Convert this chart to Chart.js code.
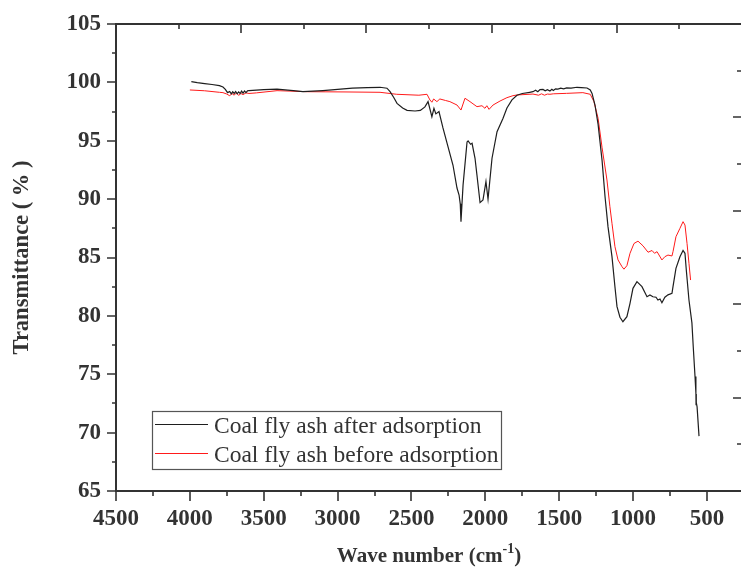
<!DOCTYPE html>
<html>
<head>
<meta charset="utf-8">
<script src="https://cdn.jsdelivr.net/npm/chart.js@4.4.1/dist/chart.umd.min.js"></script>
<style>
  html, body { margin: 0; padding: 0; background: #fff; overflow: hidden; }
  #wrap { width: 744px; height: 573px; }
</style>
</head>
<body>
<div id="wrap"><canvas id="ftir" width="744" height="573"></canvas></div>
<script>
// FTIR spectra of coal fly ash, wavenumber (cm-1) vs transmittance (%)
const afterWavenumber = [
  3990, 3950, 3900, 3850, 3800, 3776, 3760, 3745, 3730, 3720, 3710, 3700, 3690, 3680, 3670, 3660,
  3650, 3640, 3630, 3620, 3610, 3600, 3500, 3410, 3300, 3235, 3100, 3000, 2900, 2800, 2713, 2666,
  2645, 2620, 2598, 2560, 2530, 2476, 2440, 2409, 2388, 2362, 2348, 2335, 2314, 2287, 2253, 2219,
  2192, 2178, 2170, 2165, 2151, 2124, 2117, 2100, 2090, 2070, 2057, 2036, 2016, 1996, 1982, 1955,
  1921, 1881, 1854, 1820, 1786, 1750, 1700, 1678, 1660, 1645, 1630, 1610, 1595, 1580, 1563, 1550,
  1540, 1525, 1509, 1490, 1470, 1450, 1420, 1380, 1350, 1312, 1290, 1278, 1258, 1237, 1210, 1190,
  1170, 1143, 1123, 1109, 1089, 1069, 1042, 1021, 1001, 974, 940, 906, 886, 866, 845, 832, 818,
  805, 785, 764, 737, 730, 710, 683, 662, 649, 640, 622, 602, 593, 581, 575, 574, 573, 572, 567, 554
];
const afterTransmittance = [
  100.06, 99.98, 99.9, 99.82, 99.72, 99.6, 99.4, 99.12, 99.22, 99.02, 99.2, 99.05, 99.22, 99.02, 99.18, 99.05,
  99.25, 99.08, 99.26, 99.12, 99.28, 99.3, 99.38, 99.42, 99.3, 99.2, 99.3, 99.4, 99.5, 99.55, 99.58, 99.5,
  99.2, 98.7, 98.2, 97.8, 97.6, 97.55, 97.6, 97.9, 98.35, 97.06, 97.78, 97.3, 97.5, 96.1, 94.5, 92.9,
  90.95, 90.35, 89.6, 88.07, 91.2, 94.9, 94.98, 94.7, 94.78, 93.5, 92.07, 89.7, 89.93, 91.5, 90.0, 93.5,
  95.78, 96.9, 97.8, 98.5, 98.9, 99.05, 99.15, 99.2, 99.32, 99.2, 99.38, 99.4, 99.28, 99.38, 99.26, 99.4,
  99.3, 99.45, 99.43, 99.5, 99.44, 99.52, 99.5, 99.58, 99.55, 99.52, 99.35, 99.06, 98.06, 96.4, 93.3, 90.2,
  87.64, 85.07, 82.5, 80.79, 79.88, 79.5, 79.93, 81.08, 82.36, 82.93, 82.5, 81.64, 81.79, 81.64, 81.6, 81.36, 81.45,
  81.13, 81.6, 81.8, 81.93, 82.5, 84.07, 85.07, 85.6, 85.36, 83.93, 81.36, 79.4, 77.36, 74.8, 73.4, 72.4, 73.3, 72.6, 72.2, 69.7
];

const beforeWavenumber = [
  4000, 3900, 3800, 3776, 3750, 3730, 3715, 3700, 3685, 3670, 3655, 3640, 3620, 3600, 3550, 3410,
  3200, 2950, 2713, 2600, 2450, 2395, 2375, 2362, 2350, 2328, 2308, 2270, 2240, 2192, 2165, 2138,
  2104, 2057, 2023, 2003, 1990, 1975, 1948, 1901, 1854, 1813, 1786, 1678, 1640, 1620, 1600, 1580,
  1563, 1540, 1450, 1340, 1290, 1265, 1237, 1210, 1177, 1157, 1143, 1123, 1102, 1075,
  1062, 1042, 1021, 994, 967, 933, 899, 872, 855, 838, 805, 785, 764, 737, 730, 710, 683, 662, 649,
  635, 622, 611
];
const beforeTransmittance = [
  99.35, 99.28, 99.15, 99.12, 99.0, 98.85, 99.05, 98.9, 99.1, 98.88, 99.05, 98.95, 99.1, 99.05, 99.1, 99.29,
  99.2, 99.18, 99.15, 98.98, 98.9, 98.98, 98.49, 98.3, 98.58, 98.35, 98.58, 98.45, 98.35, 98.06, 97.63, 98.64,
  98.35, 97.92, 98.0, 97.78, 98.0, 97.69, 98.06, 98.4, 98.69, 98.86, 98.92, 99.0, 98.9, 99.02, 98.9, 99.0,
  98.98, 99.02, 99.06, 99.12, 98.98, 98.35, 96.92, 94.4, 91.64, 89.35, 87.93, 85.93, 84.79, 84.21,
  84.0, 84.3, 85.36, 86.2, 86.4, 86.0, 85.45, 85.6, 85.36, 85.5, 84.79, 85.07, 85.21, 85.13, 85.5, 86.78, 87.5, 88.07, 87.78,
  86.2, 84.5, 83.07
];

const seriesLabels = ['Coal fly ash after adsorption', 'Coal fly ash before adsorption'];
const wavenumberTicks = [4500, 4000, 3500, 3000, 2500, 2000, 1500, 1000, 500];
const wavenumberMinorTicks = [4250, 3750, 3250, 2750, 2250, 1750, 1250, 750];
const transmittanceTicks = [65, 70, 75, 80, 85, 90, 95, 100, 105];
const transmittanceMinorTicks = [67.5, 72.5, 77.5, 82.5, 87.5, 92.5, 97.5, 102.5];

const toPoints = (xs, ys) => xs.map((x, i) => ({ x: x, y: ys[i] }));

const AXIS_COLOR = '#333333';
const SERIF = '"Liberation Serif", "Times New Roman", serif';

// Frame, tick marks, x-axis title and the boxed legend
const frameAndLegend = {
  id: 'frameAndLegend',
  afterDraw(chart) {
    const { ctx, chartArea: a, scales } = chart;
    const xs = scales.x, ys = scales.y;
    ctx.save();
    ctx.strokeStyle = AXIS_COLOR;
    ctx.lineWidth = 2;
    ctx.beginPath();
    ctx.moveTo(a.left, a.top); ctx.lineTo(a.right, a.top);
    ctx.moveTo(a.left, a.bottom); ctx.lineTo(a.right, a.bottom);
    ctx.moveTo(a.left, a.top - 1); ctx.lineTo(a.left, a.bottom + 1);
    ctx.moveTo(a.right, a.top - 1); ctx.lineTo(a.right, a.bottom + 1);
    ctx.stroke();

    ctx.lineWidth = 1.6;
    ctx.beginPath();
    // bottom axis: outward ticks
    wavenumberTicks.forEach(v => { const p = Math.round(xs.getPixelForValue(v)); ctx.moveTo(p, a.bottom); ctx.lineTo(p, a.bottom + 10); });
    wavenumberMinorTicks.forEach(v => { const p = Math.round(xs.getPixelForValue(v)); ctx.moveTo(p, a.bottom); ctx.lineTo(p, a.bottom + 5); });
    // left axis: outward ticks
    transmittanceTicks.forEach(v => { const p = Math.round(ys.getPixelForValue(v)); ctx.moveTo(a.left, p); ctx.lineTo(a.left - 9, p); });
    transmittanceMinorTicks.forEach(v => { const p = Math.round(ys.getPixelForValue(v)); ctx.moveTo(a.left, p); ctx.lineTo(a.left - 4, p); });
    // top and right axes: ten inward divisions, alternating length
    for (let k = 1; k < 10; k++) {
      const len = k % 2 ? 5 : 9;
      const px = Math.round(a.left + (a.right - a.left) * k / 10);
      ctx.moveTo(px, a.top); ctx.lineTo(px, a.top + len);
      const py = Math.round(a.top + (a.bottom - a.top) * k / 10);
      ctx.moveTo(a.right, py); ctx.lineTo(a.right - len, py);
    }
    ctx.stroke();

    // x-axis title with superscript
    ctx.fillStyle = AXIS_COLOR;
    ctx.textBaseline = 'alphabetic';
    ctx.textAlign = 'left';
    const main = 'Wave number (cm', sup = '-1', tail = ')';
    ctx.font = 'bold 21px ' + SERIF;
    const wMain = ctx.measureText(main).width, wTail = ctx.measureText(tail).width;
    ctx.font = 'bold 14px ' + SERIF;
    const wSup = ctx.measureText(sup).width;
    const cx = (a.left + a.right) / 2;
    let tx = cx - (wMain + wSup + wTail) / 2;
    const base = 562;
    ctx.font = 'bold 21px ' + SERIF;
    ctx.fillText(main, tx, base);
    tx += wMain;
    ctx.font = 'bold 14px ' + SERIF;
    ctx.fillText(sup, tx, base - 9);
    tx += wSup;
    ctx.font = 'bold 21px ' + SERIF;
    ctx.fillText(tail, tx, base);

    // legend box
    const box = { l: 152, t: 411, r: 501, b: 469 };
    ctx.strokeStyle = '#555';
    ctx.lineWidth = 1.2;
    ctx.strokeRect(box.l + 0.5, box.t + 0.5, box.r - box.l, box.b - box.t);
    const rows = [424.5, 453.5];
    ctx.font = '23.5px ' + SERIF;
    chart.data.datasets.forEach((ds, i) => {
      ctx.strokeStyle = ds.borderColor;
      ctx.lineWidth = 1.2;
      ctx.beginPath();
      ctx.moveTo(155, rows[i]); ctx.lineTo(208, rows[i]);
      ctx.stroke();
      ctx.fillStyle = '#333';
      ctx.fillText(ds.label, 214, rows[i] + 8.5);
    });
    ctx.restore();
  }
};

new Chart(document.getElementById('ftir'), {
  type: 'line',
  data: {
    datasets: [
      { label: seriesLabels[0], data: toPoints(afterWavenumber, afterTransmittance),
        borderColor: '#1e1e1e', borderWidth: 1.2, pointRadius: 0, tension: 0, fill: false },
      { label: seriesLabels[1], data: toPoints(beforeWavenumber, beforeTransmittance),
        borderColor: '#ff1a1a', borderWidth: 1.0, pointRadius: 0, tension: 0, fill: false }
    ]
  },
  options: {
    responsive: false,
    animation: false,
    devicePixelRatio: 1,
    layout: { padding: { top: 24, right: 2, left: 0, bottom: 0 } },
    plugins: { legend: { display: false }, tooltip: { enabled: false } },
    scales: {
      x: {
        type: 'linear', reverse: true, min: 263, max: 4500,
        afterBuildTicks: s => { s.ticks = wavenumberTicks.map(v => ({ value: v })); },
        afterFit: s => { s.height = 82; s.paddingLeft = 0; s.paddingRight = 0; },
        grid: { display: false, drawTicks: false },
        border: { display: false },
        ticks: { color: AXIS_COLOR, padding: 14, maxRotation: 0, autoSkip: false,
                 callback: v => String(v),
                 font: { family: SERIF, size: 23, weight: 'bold' } }
      },
      y: {
        type: 'linear', min: 65, max: 105,
        afterBuildTicks: s => { s.ticks = transmittanceTicks.map(v => ({ value: v })); },
        afterFit: s => { s.width = 116; s.paddingTop = 0; s.paddingBottom = 0; },
        grid: { display: false, drawTicks: false },
        border: { display: false },
        ticks: { color: AXIS_COLOR, padding: 15, autoSkip: false,
                 callback: v => String(v),
                 font: { family: SERIF, size: 23, weight: 'bold' } },
        title: { display: true, text: 'Transmittance ( % )', color: AXIS_COLOR,
                 padding: { top: 9, bottom: 0 },
                 font: { family: SERIF, size: 22.5, weight: 'bold' } }
      }
    }
  },
  plugins: [frameAndLegend]
});
</script>
</body>
</html>
